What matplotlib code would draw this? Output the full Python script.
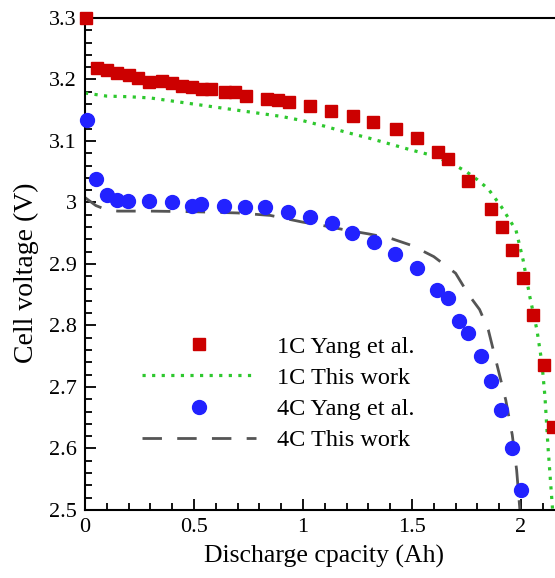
import numpy as np
import matplotlib.pyplot as plt
from matplotlib.ticker import MultipleLocator

# 1C Yang et al. (squares)
cap_1c_exp = [0.005, 0.055, 0.10, 0.147, 0.20, 0.245, 0.293, 0.353, 0.40, 0.445, 0.49, 0.535,
              0.58, 0.64, 0.69, 0.74, 0.835, 0.885, 0.935, 1.032, 1.128, 1.229, 1.321, 1.427,
              1.523, 1.619, 1.665, 1.757, 1.862, 1.913, 1.961, 2.009, 2.055, 2.106, 2.147]
volt_1c_exp = [3.300, 3.219, 3.215, 3.211, 3.207, 3.202, 3.196, 3.197, 3.194, 3.189, 3.188, 3.185,
               3.185, 3.179, 3.180, 3.173, 3.168, 3.167, 3.164, 3.157, 3.149, 3.141, 3.131, 3.119,
               3.105, 3.082, 3.071, 3.035, 2.989, 2.960, 2.923, 2.877, 2.817, 2.736, 2.635]

# 1C This work (dotted line)
cap_1c_sim = [0.0, 0.1, 0.2, 0.3, 0.4, 0.5, 0.6, 0.7, 0.8, 0.9, 1.0, 1.1, 1.2, 1.3, 1.4, 1.5,
              1.6, 1.7, 1.75, 1.8, 1.85, 1.91, 1.977, 2.01, 2.041, 2.073, 2.096, 2.11, 2.124, 2.145]
volt_1c_sim = [3.178, 3.173, 3.172, 3.170, 3.165, 3.160, 3.155, 3.150, 3.145, 3.140, 3.133, 3.124,
               3.114, 3.105, 3.095, 3.085, 3.076, 3.060, 3.050, 3.037, 3.022, 2.993, 2.955, 2.906,
               2.846, 2.793, 2.739, 2.684, 2.602, 2.500]

# 4C Yang et al. (circles)
cap_4c_exp = [0.01, 0.05, 0.10, 0.147, 0.197, 0.294, 0.40, 0.49, 0.53, 0.638, 0.734, 0.826,
              0.931, 1.032, 1.133, 1.225, 1.326, 1.422, 1.523, 1.617, 1.665, 1.714, 1.759,
              1.818, 1.862, 1.906, 1.957, 2.0]
volt_4c_exp = [3.134, 3.038, 3.012, 3.004, 3.003, 3.003, 3.000, 2.995, 2.998, 2.995, 2.993, 2.993,
               2.985, 2.976, 2.967, 2.950, 2.936, 2.916, 2.893, 2.858, 2.845, 2.807, 2.787,
               2.751, 2.709, 2.663, 2.600, 2.532]

# 4C This work (dashed line)
cap_4c_sim = [0.0, 0.05, 0.1, 0.15, 0.3, 0.5, 0.7, 0.85, 1.0, 1.1, 1.2, 1.3, 1.4, 1.5, 1.6,
              1.7, 1.76, 1.81, 1.85, 1.89, 1.93, 1.96, 1.98, 1.995]
volt_4c_sim = [3.008, 2.995, 2.988, 2.986, 2.986, 2.985, 2.983, 2.979, 2.968, 2.962, 2.955, 2.949,
               2.942, 2.930, 2.912, 2.885, 2.850, 2.826, 2.793, 2.736, 2.679, 2.622, 2.565, 2.500]

plt.rcParams['font.family'] = ['Liberation Serif', 'DejaVu Serif']

fig = plt.figure(figsize=(5.55, 5.78), dpi=100)
ax = fig.add_axes([85 / 555, 68 / 578, 470 / 555, 492 / 578])

ax.plot(cap_1c_exp, volt_1c_exp, ls='none', marker='s', ms=8, color='#cc0000',
        label='1C Yang et al.', clip_on=False, zorder=3)
ax.plot(cap_1c_sim, volt_1c_sim, ls=(0, (1, 2)), lw=2.3, color='#2ec82e',
        dash_capstyle='butt', label='1C This work', zorder=2)
ax.plot(cap_4c_exp, volt_4c_exp, ls='none', marker='o', ms=10, color='#2222ff',
        label='4C Yang et al.', clip_on=False, zorder=3)
ax.plot(cap_4c_sim, volt_4c_sim, ls=(0, (7, 5.5)), lw=2.0, color='#555555',
        label='4C This work', zorder=2)

ax.set_xlim(0, 2.156)
ax.set_ylim(2.5, 3.3)
ax.xaxis.set_minor_locator(MultipleLocator(0.1))
ax.yaxis.set_minor_locator(MultipleLocator(0.02))
ax.set_xticks([0, 0.5, 1, 1.5, 2])
ax.set_xticklabels(['0', '0.5', '1', '1.5', '2'])
ax.set_yticks([2.5, 2.6, 2.7, 2.8, 2.9, 3.0, 3.1, 3.2, 3.3])
ax.set_yticklabels(['2.5', '2.6', '2.7', '2.8', '2.9', '3', '3.1', '3.2', '3.3'])

ax.tick_params(which='both', direction='in', width=1.3, labelsize=16, top=False, right=False)
ax.tick_params(which='major', length=8, pad=6)
ax.tick_params(which='minor', length=5)

ax.spines['right'].set_visible(False)
for s in ['left', 'bottom', 'top']:
    ax.spines[s].set_linewidth(1.5)

ax.set_xlabel('Discharge cpacity (Ah)', fontsize=18.5)
ax.set_ylabel('Cell voltage (V)', fontsize=20)
ax.xaxis.set_label_coords(0.509, -0.071)
ax.yaxis.label.set_va('bottom')
ax.yaxis.set_label_coords(-0.097, 0.482)

ax.legend(loc='center left', bbox_to_anchor=(142 / 555, 1 - 393.5 / 578),
          bbox_transform=fig.transFigure, frameon=False, fontsize=17.5,
          numpoints=1, handlelength=4.7, handletextpad=0.86, labelspacing=0.37,
          borderpad=0, borderaxespad=0)

fig.savefig('out.png', dpi=100)
